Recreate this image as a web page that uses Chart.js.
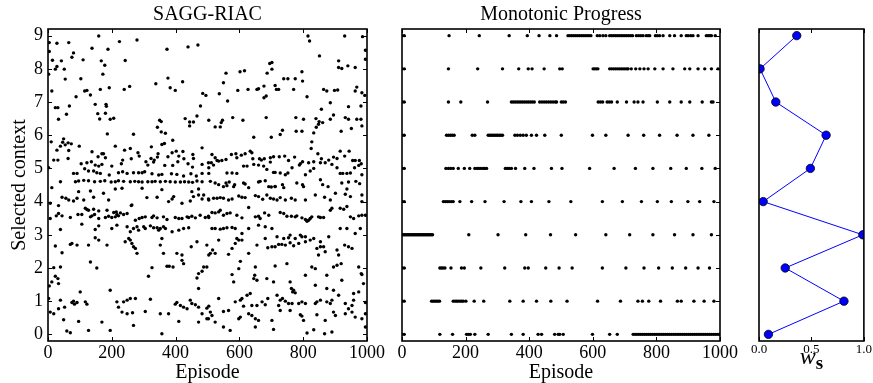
<!DOCTYPE html>
<html>
<head>
<meta charset="utf-8">
<script src="https://cdn.jsdelivr.net/npm/chart.js@4.4.0/dist/chart.umd.min.js"></script>
<style>
  html, body { margin: 0; padding: 0; background: #fff; }
  #wrap { position: relative; width: 873px; height: 383px; }
  #wrap canvas { position: absolute; left: 0; top: 0; }
</style>
</head>
<body>
<div id="wrap">
  <canvas id="sagg" width="873" height="383"></canvas>
  <canvas id="mono" width="873" height="383"></canvas>
  <canvas id="weights" width="873" height="383"></canvas>
</div>
<script>
// ── Data ──

const episodeTicks = [0, 200, 400, 600, 800, 1000];
const contextTicks = [0, 1, 2, 3, 4, 5, 6, 7, 8, 9];
const wsTicks = [0, 0.5, 1];

// SAGG-RIAC: [episode, selected context]
const saggEarlyHigh = [
  [159,8.99],[4,8.79],[28,8.77],[65,8.79],[224,8.82],[279,8.87],[470,8.72],[439,8.66],[138,8.62],[188,8.59],[373,8.59],[4,8.52],[80,8.48],[75,8.35],[14,8.26],[42,8.24],[110,8.27],[167,8.24],[242,8.25],[178,8.11],[28,8.07],[23,7.99],[51,7.99],[2,7.84],[172,7.84],[376,7.72],[54,7.69],[103,7.70],[422,7.61],[338,7.55],[383,7.43],[399,7.35],[115,7.33],[122,7.35],[133,7.21],[164,7.38],[192,7.43],[239,7.38],[256,7.47],[12,7.33],[88,7.16],[485,7.26],[495,7.20],[148,6.93],[182,6.93],[183,6.87],[23,6.83],[31,6.83],[67,6.88],[478,6.88],[156,6.65],[180,6.66],[58,6.63],[162,6.49],[195,6.48],[206,6.51],[33,6.48],[350,6.45],[355,6.41],[430,6.50],[444,6.40],[456,6.40],[444,6.28],[467,6.58],[504,6.45],[343,6.24],[355,6.10],[368,6.06],[186,6.04],[268,6.03],[391,5.85],[10,5.80],[49,5.89],[46,5.79],[54,5.71],[39,5.67],[63,5.77],[73,5.74],[28,5.55],[98,5.67],[65,5.54],[211,5.67],[240,5.55],[258,5.60],[324,5.65],[357,5.72],[365,5.75],[389,5.47],[402,5.52],[423,5.51],[483,5.62],[138,5.50],[169,5.44],[174,5.44],[157,5.35],[180,5.32],[282,5.47],[286,5.37],[345,5.44],[343,5.34],[376,5.35],[410,5.37],[426,5.29],[454,5.42],[456,5.30],[18,5.25],[31,5.25],[63,5.30],[234,5.25],[261,5.29],[323,5.30],[333,5.25],[104,5.14],[122,5.17],[136,5.20],[148,5.10],[169,5.12],[159,5.07],[200,5.07],[230,5.14],[307,5.20],[313,5.10],[331,5.19],[366,5.09],[391,5.09],[407,5.20],[439,5.14],[453,5.04],[483,5.12],[504,5.02],[2,5.02],[115,4.99],[127,4.92],[143,4.92],[153,4.87],[164,4.85],[80,4.85],[91,4.85],[192,4.80],[221,4.87],[234,4.90],[248,4.85],[268,4.87],[284,4.87],[295,4.87],[303,4.90],[326,4.84],[347,4.80],[357,4.82],[387,4.84],[404,4.82],[425,4.77],[448,4.84],[465,4.77],[483,4.85],[504,4.85],
  [39,4.60],[86,4.60],[96,4.62],[112,4.64],[127,4.63],[146,4.60],[164,4.61],[178,4.63],[198,4.59],[211,4.60],[221,4.63],[237,4.61],[258,4.60],[272,4.61],[284,4.60],[295,4.59],[313,4.60],[326,4.60],[336,4.61],[352,4.60],[368,4.61],[383,4.60],[399,4.59],[415,4.59],[428,4.60],[441,4.59],[453,4.58],[467,4.62],[483,4.60]
];
const saggLateHigh = [
  [815,8.99],[820,8.84],[930,8.99],[986,8.97],[995,8.56],[851,8.39],[995,8.29],[911,8.24],[921,8.01],[911,8.04],[940,8.09],[963,8.04],[695,8.16],[702,8.19],[702,7.99],[602,7.91],[616,7.94],[558,7.87],[550,7.58],[739,7.70],[752,7.70],[775,7.70],[796,7.91],[798,7.63],[687,7.87],[677,7.48],[684,7.18],[677,7.13],[712,7.50],[716,7.38],[723,7.38],[655,7.38],[660,7.40],[627,7.38],[595,7.35],[770,7.38],[864,7.38],[874,7.33],[898,7.35],[908,7.36],[968,7.45],[963,7.33],[812,7.16],[537,7.25],[563,7.03],[885,6.98],[857,6.78],[984,7.28],[993,7.20],[942,6.86],[981,6.88],
  [524,6.25],[540,6.25],[543,6.38],[547,6.45],[579,6.53],[611,6.45],[684,6.53],[777,6.53],[778,6.12],[801,6.48],[796,6.12],[840,6.50],[841,6.24],[848,6.33],[850,6.41],[861,6.38],[885,6.48],[895,6.61],[919,6.12],[932,6.53],[942,6.48],[951,6.20],[968,6.48],[981,6.48],[984,6.28],[645,5.94],[700,5.94],[728,6.02],[735,6.15],[833,6.07],[827,5.80],[825,5.60],
  [514,5.42],[524,5.32],[530,5.24],[535,5.22],[545,5.24],[558,5.27],[575,5.42],[589,5.44],[592,5.32],[606,5.40],[618,5.44],[634,5.52],[639,5.47],[642,5.29],[663,5.29],[669,5.25],[678,5.29],[697,5.32],[707,5.35],[725,5.35],[742,5.37],[754,5.24],[773,5.34],[791,5.14],[798,5.20],[817,5.17],[833,5.20],[846,5.44],[857,5.29],[880,5.25],[895,5.34],[906,5.30],[916,5.52],[930,5.37],[944,5.52],[955,5.24],[963,5.24],[976,5.24],[982,5.14],[503,5.17],[512,5.17],
  [519,5.10],[561,4.86],[577,4.86],[592,4.85],[613,5.07],[624,5.07],[645,5.12],[660,5.10],[676,5.07],[686,4.97],[697,5.19],[707,4.88],[712,4.88],[728,4.86],[744,4.81],[752,4.86],[765,5.02],[788,5.10],[807,4.81],[822,4.92],[833,5.00],[854,5.17],[869,5.17],[890,5.12],[906,5.02],[916,4.85],[924,4.85],[937,4.85],[948,4.86],[961,5.02],[974,5.09],[984,4.81],
  [509,4.61],[524,4.56],[535,4.51],[558,4.56],[568,4.59],[585,4.51],[613,4.56],[618,4.53],[660,4.59],[665,4.61],[681,4.63],[700,4.44],[712,4.46],[735,4.51],[780,4.56],[798,4.51],[854,4.66],[861,4.51],[921,4.56],[942,4.59],[965,4.61],[977,4.54]
];
const saggEarlyLow = [
  [12,4.42],[96,4.30],[133,4.32],[174,4.25],[211,4.38],[232,4.40],[295,4.40],[357,4.36],[451,4.30],[472,4.38],[488,4.20],[44,4.13],[56,4.10],[65,4.05],[80,4.02],[91,4.10],[112,4.05],[143,4.13],[190,4.05],[263,3.90],[310,4.12],[342,4.13],[378,4.00],[389,4.08],[394,4.15],[420,3.95],[446,4.02],[456,4.15],[472,4.20],[483,4.08],[504,4.05],[7,3.95],[33,3.88],[117,3.80],[122,3.76],[127,3.74],[143,3.77],[159,3.72],[185,3.74],[206,3.67],[214,3.69],[261,3.88],
  [7,3.49],[26,3.57],[33,3.64],[44,3.57],[70,3.52],[94,3.61],[106,3.61],[133,3.54],[138,3.57],[146,3.61],[159,3.49],[180,3.52],[190,3.56],[200,3.52],[211,3.54],[216,3.61],[221,3.57],[227,3.66],[237,3.61],[248,3.64],[274,3.44],[286,3.49],[295,3.52],[305,3.54],[326,3.52],[331,3.57],[342,3.51],[362,3.54],[373,3.46],[399,3.52],[410,3.49],[420,3.49],[436,3.54],[441,3.52],[451,3.56],[462,3.51],[477,3.59],[493,3.52],[504,3.52],
  [39,3.16],[106,3.32],[148,3.16],[159,3.27],[200,3.19],[216,3.29],[248,3.24],[258,3.09],[268,3.19],[279,3.24],[284,3.14],[300,3.24],[305,3.19],[321,3.27],[331,3.21],[342,3.21],[347,3.14],[352,3.19],[362,3.24],[368,3.19],[389,3.09],[410,3.14],[425,3.19],[441,3.21],
  [148,2.91],[159,2.84],[242,2.79],[253,2.89],[258,2.84],[263,2.74],[268,2.64],[274,2.59],[279,2.44],[23,2.66],[70,2.71],[75,2.74],[91,2.69],[127,2.69],[185,2.69],[352,2.69],[357,2.89],[362,2.44],[404,2.44],[420,2.39],[449,2.64],[467,2.79],[504,2.39],[44,2.46],[420,2.23],[425,2.13],
  [18,2.01],[39,2.03],[153,2.00],[133,2.18],[326,2.01],[373,2.05],[380,2.05],[392,2.03],[488,2.03],[498,2.03],[472,1.83],[483,1.90],
  [23,1.75],[31,1.68],[33,1.53],[4,1.46],[12,1.58],[315,1.75],[467,1.70],[472,1.38],
  [2,1.08],[39,1.03],[75,0.96],[80,1.00],[83,0.91],[91,0.96],[117,0.98],[122,0.91],[101,1.28],[195,1.33],[216,0.98],[237,0.98],[248,1.03],[258,1.08],[274,1.08],[321,1.06],[399,0.91],[404,0.96],[415,0.87],[425,0.82],[446,1.03],[451,0.93],[462,0.89],[472,0.82],[504,0.85],
  [7,0.67],[18,0.62],[33,0.77],[52,0.82],[221,0.82],[232,0.67],[248,0.62],[265,0.65],[305,0.69],[352,0.62],[378,0.62],[436,0.77],[483,0.62],
  [49,0.44],[96,0.39],[169,0.37],[268,0.27],[410,0.39],[472,0.37],[498,0.47],
  [59,0.10],[70,0.05],[127,0.12],[195,0.12],[357,0.02]
];
const saggLateLow = [
  [550,4.45],[561,4.48],[582,4.45],[629,4.42],[692,4.45],[712,4.45],[739,4.42],[801,4.45],[878,4.45],[937,4.38],[984,4.20],
  [503,4.08],[519,4.10],[530,4.10],[540,4.12],[550,4.10],[566,4.05],[577,4.08],[598,4.17],[608,4.13],[618,4.12],[650,4.18],[660,4.15],[673,4.07],[686,4.20],[697,4.10],[707,4.08],[718,4.05],[728,4.12],[744,4.05],[763,4.10],[775,4.05],[807,4.05],[838,4.20],[867,4.13],[885,4.05],[901,4.25],[932,4.22],[948,4.15],[984,4.00],
  [503,3.56],[514,3.67],[524,3.66],[535,3.69],[540,3.74],[550,3.59],[561,3.64],[571,3.66],[592,3.59],[608,3.51],[629,3.82],[650,3.54],[660,3.56],[665,3.49],[679,3.66],[692,3.59],[728,3.67],[739,3.64],[749,3.56],[763,3.56],[775,3.54],[780,3.57],[796,3.51],[807,3.46],[812,3.41],[817,3.44],[822,3.49],[827,3.54],[848,3.54],[854,3.52],[864,3.52],[885,3.74],[890,3.80],[916,3.80],[927,3.77],[937,3.85],[948,3.54],[958,3.49],[974,3.57],[984,3.59],[995,3.59],
  [514,3.19],[524,3.19],[540,3.17],[550,3.19],[561,3.21],[577,3.22],[587,3.19],[608,3.04],[629,3.19],[660,3.29],[681,3.24],[702,3.19],[718,2.94],[739,2.89],[754,2.91],[759,2.99],[775,2.89],[791,2.99],[796,2.94],[807,2.94],[822,2.84],[833,2.89],[854,2.79],[864,2.64],[880,2.94],[916,3.19],[937,3.19],[963,3.04],[979,3.19],
  [498,2.69],[509,2.44],[516,2.54],[524,2.44],[535,2.84],[566,2.41],[577,2.59],[587,2.74],[592,2.89],[598,2.84],[608,2.84],[629,2.44],[655,2.69],[681,2.89],[689,2.61],[702,2.64],[712,2.64],[723,2.71],[733,2.71],[744,2.69],[759,2.76],[770,2.67],[786,2.74],[807,2.79],[843,2.59],[848,2.39],[854,2.64],[869,2.49],[906,2.54],[911,2.39],[919,2.13],[895,2.03],[906,2.08],[930,2.69],[942,2.64],[953,2.59],[974,2.03],[982,1.83],
  [603,2.20],[598,1.98],[650,2.03],[648,1.78],[645,1.68],[655,1.63],[577,1.80],[582,1.58],[712,2.06],[749,2.13],[827,2.03],[838,1.98],[807,1.78],[874,1.78],[921,1.63],[984,1.80],[989,1.53],[759,1.58],[763,1.38],[767,1.28],[770,1.33],[775,1.25],[707,1.58],[686,1.68],[838,1.48],[874,1.38],[895,1.33],[958,1.23],[974,1.28],
  [535,1.08],[587,0.98],[603,1.03],[608,1.08],[624,1.18],[634,1.23],[613,0.85],[639,0.87],[655,0.87],[671,0.98],[681,0.89],[689,1.08],[718,1.18],[723,0.87],[728,1.03],[735,1.08],[744,1.00],[754,0.93],[765,0.93],[786,0.93],[796,0.98],[807,0.93],[838,0.93],[843,0.98],[854,1.03],[874,0.98],[885,0.93],[890,1.03],[911,1.18],[932,0.93],[953,0.87],[958,1.03],[995,0.96],
  [498,0.79],[509,0.67],[514,0.57],[503,0.47],[524,0.37],[550,0.69],[566,0.72],[598,0.47],[603,0.52],[629,0.62],[639,0.57],[650,0.47],[660,0.42],[702,0.42],[728,0.72],[759,0.72],[791,0.59],[796,0.55],[801,0.42],[843,0.59],[869,0.42],[895,0.67],[901,0.57],[932,0.62],[942,0.77],[953,0.67],[963,0.52],[984,0.47],[995,0.62],
  [550,0.22],[571,0.12],[650,0.22],[707,0.15],[812,0.04],[833,0.14],[867,0.02],[890,0.07],[995,0.22]
];

// Monotonic Progress: episodes at which each context (row index) was selected
const monoRows = [
  [0,7,119,159,203,209,215,229,271,344,381,428,439,480,491,496,507,599,653,677,727,733,739,745,751,757,763,769,775,781,787,793,799,805,811,817,823,829,835,841,847,853,859,865,871,877,883,889,895,901,907,913,919,925,931,937,943,949,955,961,967,973,979,985,991,997],
  [0,7,93,98,103,108,113,118,161,167,172,177,183,188,193,201,227,257,339,381,423,468,519,615,687,742,756,776,813,866,878,918,950,981],
  [0,7,119,124,129,135,154,187,196,248,323,386,397,452,494,535,630,704,761,807,850,892,931,967],
  [0,4,8,12,16,20,24,28,32,36,40,44,48,52,56,60,64,68,72,76,80,84,88,92,96,210,302,389,467,546,641,716,789,857,915,973],
  [0,7,130,136,142,148,155,161,182,219,261,321,374,407,462,531,630,693,753,803,847,899,936,981],
  [0,7,138,146,153,161,177,196,213,229,236,242,248,255,260,266,325,331,337,344,357,386,415,470,503,590,667,734,789,845,894,943,985],
  [0,7,140,146,152,158,164,221,229,271,276,281,286,291,296,301,306,311,316,355,363,372,381,391,407,423,449,501,599,641,711,760,810,865,915,965],
  [0,7,146,185,269,344,350,356,362,368,374,380,386,392,398,404,410,416,433,440,447,454,461,468,475,482,486,501,507,514,617,624,631,645,652,659,677,706,730,742,758,803,842,878,905,944,973,978],
  [0,7,146,238,316,367,397,409,447,496,504,601,606,611,616,653,659,665,671,677,683,689,695,701,707,711,721,735,748,761,774,795,821,852,889,905,931,952,973,994],
  [0,7,148,243,337,394,431,465,486,522,528,534,540,546,552,558,564,570,576,582,588,594,614,622,632,641,653,659,665,671,677,683,689,695,701,707,713,719,725,737,744,751,758,768,774,779,797,803,810,821,842,857,878,894,900,908,915,931,957,963,968,973,985]
];

// w_s weight per context 0..9
const wsValues = [0.09, 0.81, 0.25, 0.99, 0.04, 0.49, 0.64, 0.16, 0.01, 0.36];

// ── Styling ──

const SERIF = "'Liberation Serif', 'DejaVu Serif', serif";
const TICK_LEN = 4;
Chart.defaults.color = "#000";

// matplotlib-like frame: box + inward ticks on all four sides
const frameTicks = {
  id: "frameTicks",
  afterDraw(chart, args, opts) {
    const { ctx, chartArea: a, scales } = chart;
    ctx.save();
    ctx.strokeStyle = "#000";
    ctx.lineWidth = 1;
    ctx.beginPath();
    (opts.xTicks || []).forEach((v) => {
      const px = Math.round(scales.x.getPixelForValue(v)) + 0.5;
      ctx.moveTo(px, a.bottom); ctx.lineTo(px, a.bottom - TICK_LEN);
      ctx.moveTo(px, a.top); ctx.lineTo(px, a.top + TICK_LEN);
    });
    (opts.yTicks || []).forEach((v) => {
      const py = Math.round(scales.y.getPixelForValue(v)) + 0.5;
      ctx.moveTo(a.left, py); ctx.lineTo(a.left + TICK_LEN, py);
      ctx.moveTo(a.right, py); ctx.lineTo(a.right - TICK_LEN, py);
    });
    ctx.stroke();
    ctx.lineWidth = 1.6;
    ctx.strokeRect(a.left, a.top, a.right - a.left, a.bottom - a.top);
    ctx.restore();
  },
};

// x label "w" with bold subscript "s"
const wsLabel = {
  id: "wsLabel",
  afterDraw(chart) {
    const { ctx, chartArea: a } = chart;
    const cx = (a.left + a.right) / 2;
    ctx.save();
    ctx.fillStyle = "#000";
    ctx.textBaseline = "alphabetic";
    ctx.font = `italic 24px ${SERIF}`;
    const ww = ctx.measureText("w").width;
    ctx.font = `bold 19px ${SERIF}`;
    const sw = ctx.measureText("s").width;
    const x0 = cx - (ww + sw) / 2;
    ctx.font = `italic 24px ${SERIF}`;
    ctx.fillText("w", x0, 364);
    ctx.font = `bold 19px ${SERIF}`;
    ctx.fillText("s", x0 + ww, 369);
    ctx.restore();
  },
};

function fixedTicks(values) {
  return (scale) => { scale.ticks = values.map((v) => ({ value: v })); };
}

function episodeAxis() {
  return {
    type: "linear", min: 0, max: 1000,
    grid: { display: false, drawTicks: false },
    border: { display: false },
    afterBuildTicks: fixedTicks(episodeTicks),
    afterFit: (s) => { s.height = 42; },
    ticks: { font: { family: SERIF, size: 18 }, color: "#000", padding: 1, maxRotation: 0, autoSkip: false, callback: (v) => String(v) },
    title: { display: true, text: "Episode", font: { family: SERIF, size: 20, lineHeight: 1 }, color: "#000", padding: { top: 0, bottom: 0 } },
  };
}

function contextAxis(show) {
  const axis = {
    type: "linear", min: -0.2, max: 9.2, display: show,
    grid: { display: false, drawTicks: false },
    border: { display: false },
    afterBuildTicks: fixedTicks(contextTicks),
    ticks: { font: { family: SERIF, size: 18 }, color: "#000", padding: 5, autoSkip: false },
    title: { display: show, text: "Selected context", font: { family: SERIF, size: 20, lineHeight: 1 }, color: "#000", padding: { top: 10, bottom: 0 } },
  };
  if (show) axis.afterFit = (s) => { s.width = 48; };
  return axis;
}

function panelTitle(text) {
  return {
    display: true, text, fullSize: false, color: "#000",
    font: { family: SERIF, size: 20, weight: "normal", lineHeight: 1.2 },
    padding: { top: 3, bottom: 2 },
  };
}

const baseOpts = { responsive: false, animation: false, events: [] };

// ── Panel 1: SAGG-RIAC ──

const saggPoints = [...saggEarlyHigh, ...saggLateHigh, ...saggEarlyLow, ...saggLateLow];

new Chart(document.getElementById("sagg"), {
  type: "scatter",
  data: { datasets: [{ data: saggPoints.map(([x, y]) => ({ x, y })), pointRadius: 1.7, backgroundColor: "#000", borderWidth: 0 }] },
  options: {
    ...baseOpts,
    layout: { padding: { left: 0, right: 506, top: 0, bottom: 0 } },
    plugins: {
      legend: { display: false }, tooltip: { enabled: false },
      title: panelTitle("SAGG-RIAC"),
      frameTicks: { xTicks: episodeTicks, yTicks: contextTicks },
    },
    scales: { x: episodeAxis(), y: contextAxis(true) },
  },
  plugins: [frameTicks],
});

// ── Panel 2: Monotonic Progress ──

const monoPoints = monoRows.flatMap((eps, ctxIdx) => eps.map((ep) => ({ x: ep, y: contextTicks[ctxIdx] })));

new Chart(document.getElementById("mono"), {
  type: "scatter",
  data: { datasets: [{ data: monoPoints, pointRadius: 1.7, backgroundColor: "#000", borderWidth: 0 }] },
  options: {
    ...baseOpts,
    layout: { padding: { left: 402, right: 153, top: 0, bottom: 0 } },
    plugins: {
      legend: { display: false }, tooltip: { enabled: false },
      title: panelTitle("Monotonic Progress"),
      frameTicks: { xTicks: episodeTicks, yTicks: contextTicks },
    },
    scales: { x: episodeAxis(), y: contextAxis(false) },
  },
  plugins: [frameTicks],
});

// ── Panel 3: w_s per context ──

new Chart(document.getElementById("weights"), {
  type: "scatter",
  data: {
    datasets: [{
      data: wsValues.map((w, i) => ({ x: w, y: contextTicks[i] })),
      showLine: true, borderColor: "#0000ff", borderWidth: 1,
      pointRadius: 4.2, pointBackgroundColor: "#0000ff", pointBorderColor: "#000", pointBorderWidth: 0.8,
    }],
  },
  options: {
    ...baseOpts,
    layout: { padding: { left: 759, right: 8, top: 29, bottom: 0 } },
    plugins: {
      legend: { display: false }, tooltip: { enabled: false },
      frameTicks: { xTicks: wsTicks, yTicks: [] },
    },
    scales: {
      x: {
        type: "linear", min: 0, max: 1,
        grid: { display: false, drawTicks: false },
        border: { display: false },
        afterBuildTicks: fixedTicks(wsTicks),
        afterFit: (s) => { s.height = 42; },
        ticks: { font: { family: SERIF, size: 13 }, color: "#000", padding: 1, maxRotation: 0, autoSkip: false, callback: (v) => Number(v).toFixed(1) },
      },
      y: contextAxis(false),
    },
  },
  plugins: [frameTicks, wsLabel],
});
</script>
</body>
</html>
